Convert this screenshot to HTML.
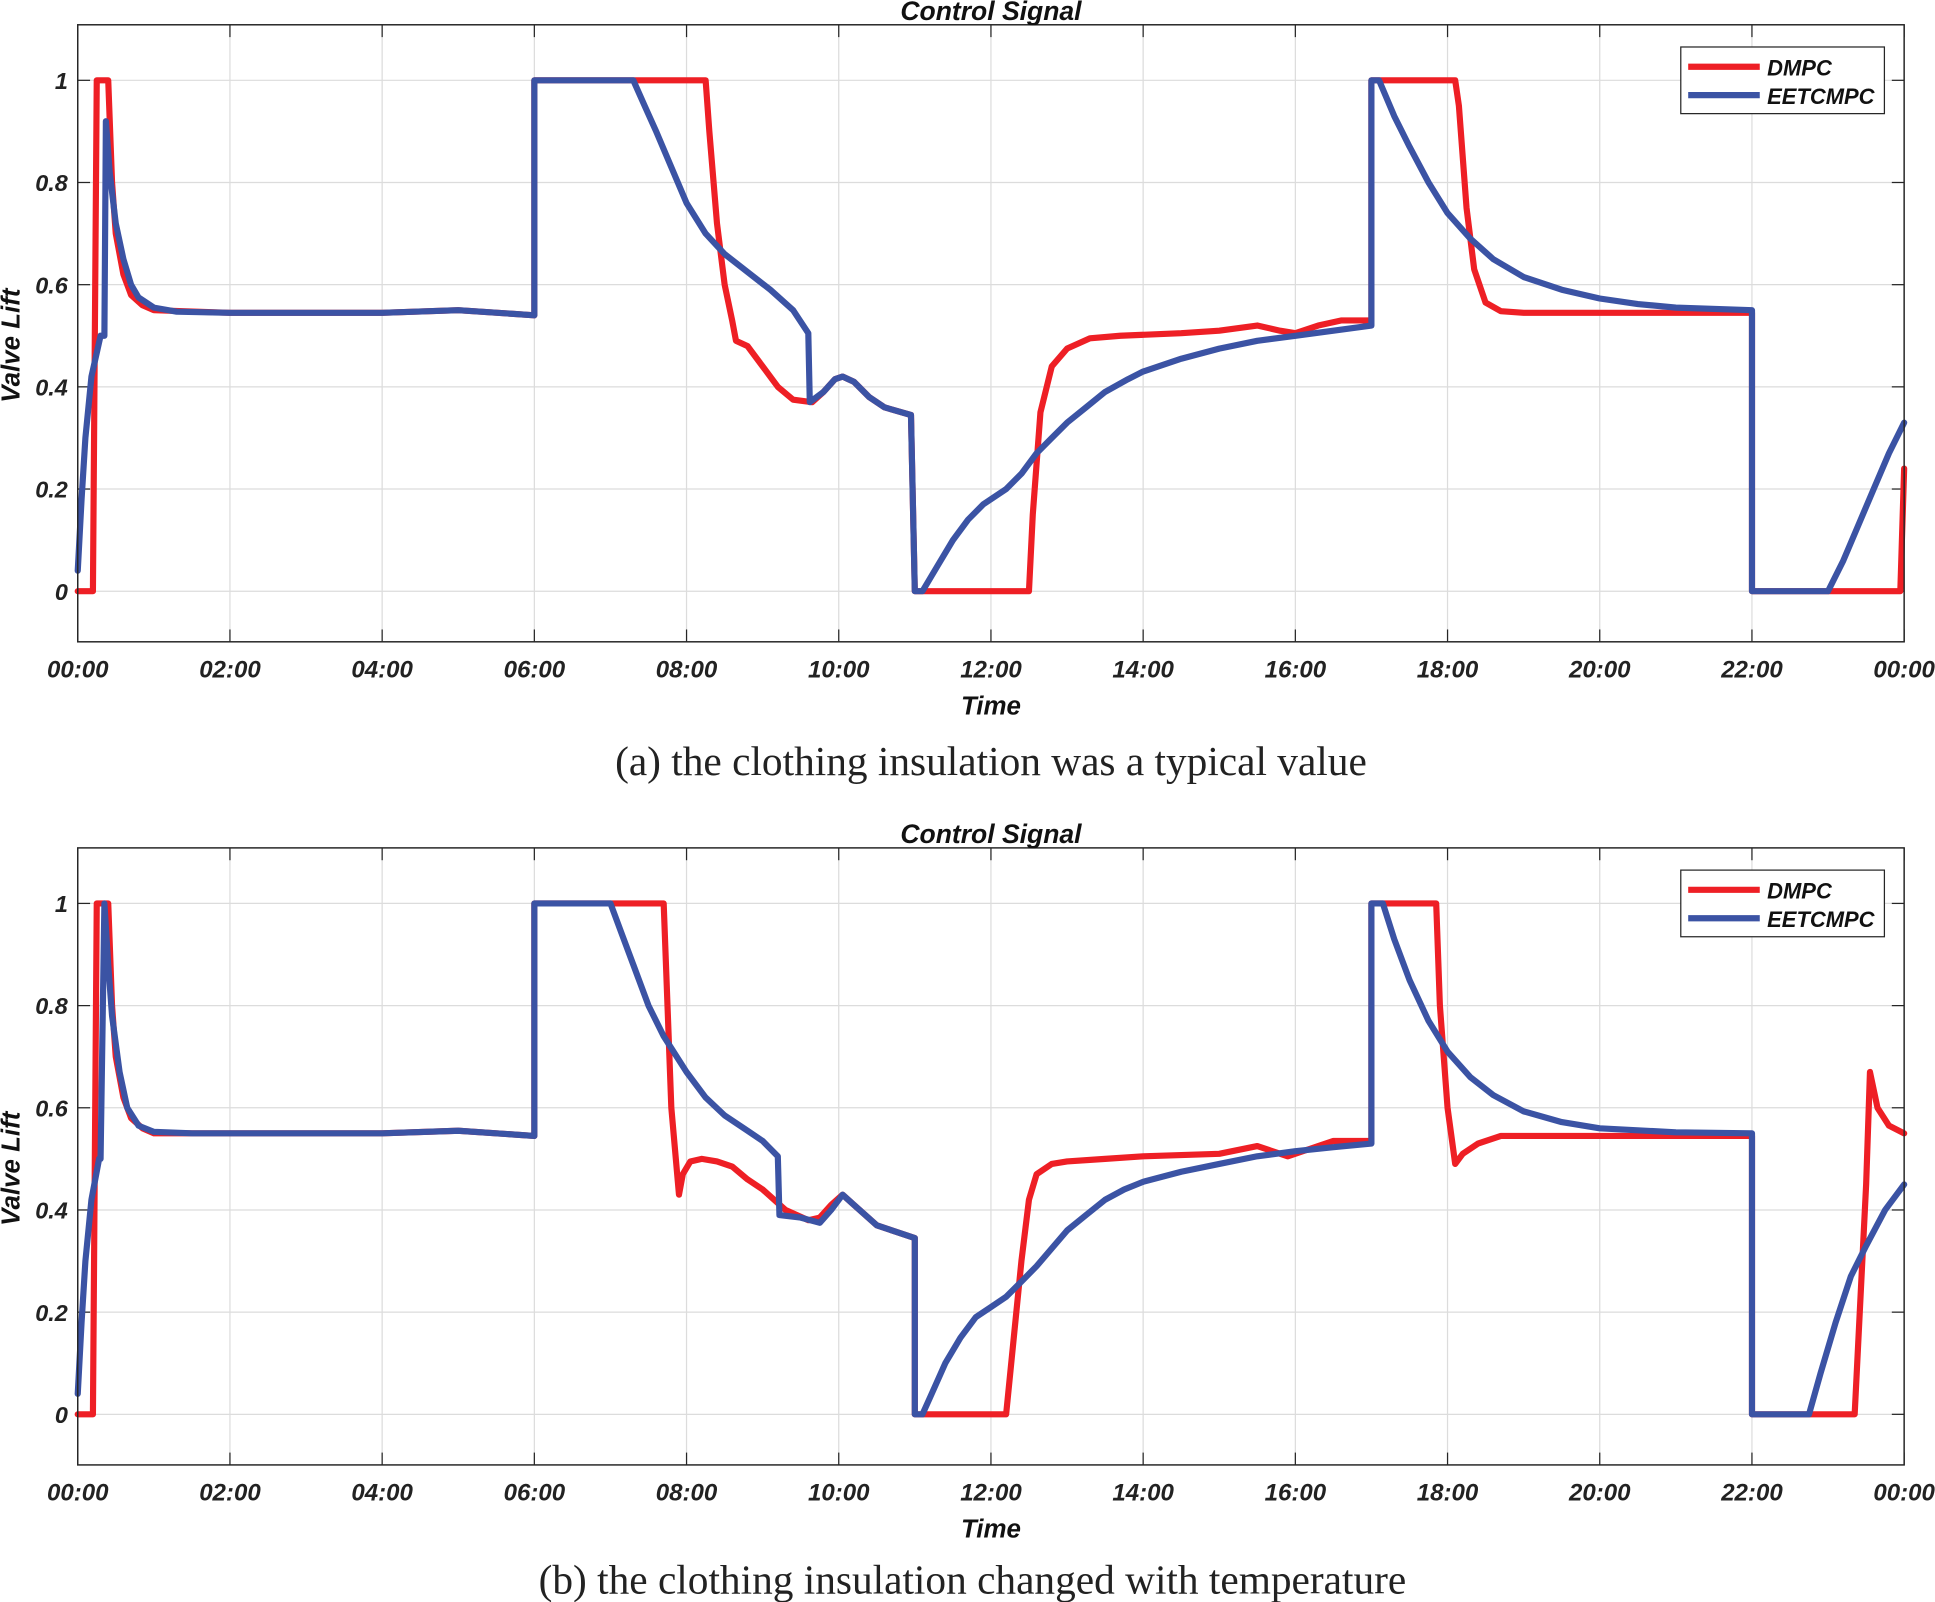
<!DOCTYPE html>
<html><head><meta charset="utf-8"><style>
html,body{margin:0;padding:0;background:#fff}
svg{display:block}
</style></head><body>
<svg id="svg" width="1935" height="1602" viewBox="0 0 1568 1298" xmlns="http://www.w3.org/2000/svg" font-family="Liberation Sans, sans-serif"></svg>
<script>
const yTicks=[0,0.2,0.4,0.6,0.8,1];
const yTickLabels=["0","0.2","0.4","0.6","0.8","1"];
const xTicks=[0,2,4,6,8,10,12,14,16,18,20,22,24];
const xTickLabels=["00:00","02:00","04:00","06:00","08:00","10:00","12:00","14:00","16:00","18:00","20:00","22:00","00:00"];
const dmpcA=[[0,0],[0.2,0],[0.25,1],[0.4,1],[0.45,0.8],[0.5,0.7],[0.6,0.62],[0.7,0.58],[0.85,0.56],[1,0.55],[2,0.545],[4,0.545],[5,0.55],[6,0.54],[6,1],[8.25,1],[8.3,0.9],[8.4,0.72],[8.5,0.6],[8.6,0.53],[8.65,0.49],[8.8,0.48],[9,0.44],[9.2,0.4],[9.4,0.375],[9.65,0.37],[9.8,0.39],[9.95,0.415],[10.05,0.42],[10.2,0.41],[10.4,0.38],[10.6,0.36],[10.95,0.345],[11,0],[12.5,0],[12.55,0.15],[12.65,0.35],[12.8,0.44],[13,0.475],[13.3,0.495],[13.7,0.5],[14.5,0.505],[15,0.51],[15.5,0.52],[15.8,0.51],[16,0.505],[16.3,0.52],[16.6,0.53],[17,0.53],[17,1],[18.1,1],[18.15,0.95],[18.25,0.75],[18.35,0.63],[18.5,0.565],[18.7,0.548],[19,0.545],[22,0.545],[22,0],[23.95,0],[24,0.24]];
const eetA=[[0,0.04],[0.05,0.18],[0.1,0.3],[0.18,0.42],[0.3,0.5],[0.35,0.5],[0.37,0.92],[0.42,0.82],[0.5,0.72],[0.6,0.65],[0.7,0.6],[0.8,0.575],[1,0.555],[1.3,0.547],[2,0.545],[4,0.545],[5,0.55],[6,0.54],[6,1],[7.3,1],[7.45,0.95],[7.6,0.9],[7.8,0.83],[8,0.76],[8.25,0.7],[8.5,0.66],[8.8,0.625],[9.1,0.59],[9.4,0.55],[9.6,0.505],[9.62,0.37],[9.8,0.39],[9.95,0.415],[10.05,0.42],[10.2,0.41],[10.4,0.38],[10.6,0.36],[10.95,0.345],[11,0],[11.1,0],[11.3,0.05],[11.5,0.1],[11.7,0.14],[11.9,0.17],[12.2,0.2],[12.4,0.23],[12.6,0.27],[12.8,0.3],[13,0.33],[13.25,0.36],[13.5,0.39],[13.8,0.415],[14,0.43],[14.5,0.455],[15,0.475],[15.5,0.49],[16,0.5],[16.5,0.51],[17,0.52],[17,1],[17.1,1],[17.3,0.93],[17.5,0.87],[17.75,0.8],[18,0.74],[18.3,0.69],[18.6,0.65],[19,0.615],[19.5,0.59],[20,0.573],[20.5,0.562],[21,0.555],[22,0.55],[22,0],[23,0],[23.2,0.06],[23.4,0.13],[23.6,0.2],[23.8,0.27],[24,0.33]];
const dmpcB=[[0,0],[0.2,0],[0.25,1],[0.4,1],[0.45,0.8],[0.5,0.7],[0.6,0.62],[0.7,0.58],[0.85,0.56],[1,0.55],[4,0.55],[5,0.555],[6,0.545],[6,1],[7.7,1],[7.75,0.8],[7.8,0.6],[7.9,0.43],[7.95,0.47],[8.05,0.495],[8.2,0.5],[8.4,0.495],[8.6,0.485],[8.8,0.46],[9,0.44],[9.3,0.4],[9.6,0.38],[9.75,0.385],[9.9,0.41],[10.05,0.43],[10.2,0.41],[10.5,0.37],[10.7,0.36],[11,0.345],[11,0],[12.2,0],[12.3,0.15],[12.4,0.3],[12.5,0.42],[12.6,0.47],[12.8,0.49],[13,0.495],[13.5,0.5],[14,0.505],[15,0.51],[15.5,0.525],[15.9,0.505],[16.2,0.52],[16.5,0.535],[17,0.535],[17,1],[17.85,1],[17.9,0.8],[18,0.6],[18.1,0.49],[18.2,0.51],[18.4,0.53],[18.7,0.545],[22,0.545],[22,0],[23.35,0],[23.45,0.3],[23.5,0.45],[23.55,0.67],[23.65,0.6],[23.8,0.565],[24,0.55]];
const eetB=[[0,0.04],[0.05,0.18],[0.1,0.3],[0.18,0.42],[0.28,0.5],[0.3,0.5],[0.35,1],[0.4,0.88],[0.45,0.78],[0.55,0.67],[0.65,0.6],[0.8,0.565],[1,0.553],[1.5,0.55],[4,0.55],[5,0.555],[6,0.545],[6,1],[7,1],[7.15,0.94],[7.3,0.88],[7.5,0.8],[7.7,0.74],[8,0.67],[8.25,0.62],[8.5,0.585],[8.8,0.555],[9.0,0.535],[9.2,0.505],[9.22,0.39],[9.5,0.385],[9.75,0.375],[9.9,0.4],[10.05,0.43],[10.2,0.41],[10.5,0.37],[10.7,0.36],[11,0.345],[11,0],[11.1,0],[11.25,0.05],[11.4,0.1],[11.6,0.15],[11.8,0.19],[12,0.21],[12.2,0.23],[12.4,0.26],[12.6,0.29],[12.8,0.325],[13,0.36],[13.25,0.39],[13.5,0.42],[13.75,0.44],[14,0.455],[14.5,0.475],[15,0.49],[15.5,0.505],[16,0.515],[16.5,0.523],[17,0.53],[17,1],[17.15,1],[17.3,0.93],[17.5,0.85],[17.75,0.77],[18,0.71],[18.3,0.66],[18.6,0.625],[19,0.593],[19.5,0.572],[20,0.56],[21,0.552],[22,0.55],[22,0],[22.75,0],[22.9,0.08],[23.1,0.18],[23.3,0.27],[23.5,0.33],[23.75,0.4],[24,0.45]];

const NS="http://www.w3.org/2000/svg";
const svg=document.getElementById('svg');
function el(tag,attrs,parent,txt){const e=document.createElementNS(NS,tag);for(const k in attrs)e.setAttribute(k,attrs[k]);if(txt!==undefined)e.textContent=txt;(parent||svg).appendChild(e);return e;}

function panel(id,top,red,blue,caption,capX,capY){
  const L=63,R=1543,T=top,B=top+500;
  const x=h=>L+(R-L)*h/24;
  const y=v=>B-41-v*414;
  const g=el('g',{});
  
  
  el('rect',{x:L,y:T,width:R-L,height:B-T,fill:'#fff'},g);
  xTicks.forEach((t,i)=>{
    if(i>0&&i<xTicks.length-1){const gl=el('line',{x1:x(t),x2:x(t),y1:T,y2:B,stroke:'#dcdcdc','stroke-width':1},g);}
    el('line',{x1:x(t),x2:x(t),y1:B,y2:B-10,stroke:'#262626','stroke-width':1},g);
    el('line',{x1:x(t),x2:x(t),y1:T,y2:T+10,stroke:'#262626','stroke-width':1},g);
    const lb=el('text',{x:x(t),y:B+29,'text-anchor':'middle','font-size':19.5,'font-weight':'bold','font-style':'italic',fill:'#222'},g,xTickLabels[i]);
    
  });
  yTicks.forEach((t,i)=>{
    const gl=el('line',{x1:L,x2:R,y1:y(t),y2:y(t),stroke:'#dcdcdc','stroke-width':1},g);
    
    el('line',{x1:L,x2:L+10,y1:y(t),y2:y(t),stroke:'#262626'},g);
    el('line',{x1:R,x2:R-10,y1:y(t),y2:y(t),stroke:'#262626'},g);
    const lb=el('text',{x:L-8,y:y(t)+7,'text-anchor':'end','font-size':19,'font-weight':'bold','font-style':'italic',fill:'#222'},g,yTickLabels[i]);
    
  });
  const pts=d=>d.map(p=>x(p[0]).toFixed(1)+','+y(p[1]).toFixed(1)).join(' ');
  const r=el('polyline',{points:pts(red),fill:'none',stroke:'#ee1f25','stroke-width':5,'stroke-linejoin':'round','stroke-linecap':'round'},g);
  
  const b=el('polyline',{points:pts(blue),fill:'none',stroke:'#3b53a4','stroke-width':5,'stroke-linejoin':'round','stroke-linecap':'round'},g);
  
  el('rect',{x:L,y:T,width:R-L,height:B-T,fill:'none',stroke:'#262626','stroke-width':1.2},g);
  const tt=el('text',{x:(L+R)/2,y:T-4,'text-anchor':'middle','font-size':21.5,'font-weight':'bold','font-style':'italic',fill:'#111'},g,'Control Signal');
  
  const xt=el('text',{x:(L+R)/2,y:B+59,'text-anchor':'middle','font-size':21,'font-weight':'bold','font-style':'italic',fill:'#111'},g,'Time');
  
  const yt=el('text',{x:0,y:0,transform:`translate(16,${(y(0)+y(1))/2+8}) rotate(-90)`,'text-anchor':'middle','font-size':21,'font-weight':'bold','font-style':'italic',fill:'#111'},g,'Valve Lift');
  
  const lg=el('g',{},g);
  
  el('rect',{x:1362,y:T+18,width:165,height:54,fill:'#fff',stroke:'#262626','stroke-width':1},lg);
  const e1=el('g',{},lg);
  el('line',{x1:1368,x2:1426,y1:T+34,y2:T+34,stroke:'#ee1f25','stroke-width':5},e1);
  el('text',{x:1432,y:T+41,'font-size':17.8,'font-weight':'bold','font-style':'italic',fill:'#111'},e1,'DMPC');
  const e2=el('g',{},lg);
  el('line',{x1:1368,x2:1426,y1:T+57,y2:T+57,stroke:'#3b53a4','stroke-width':5},e2);
  el('text',{x:1432,y:T+64,'font-size':17.8,'font-weight':'bold','font-style':'italic',fill:'#111'},e2,'EETCMPC');
  const cp=el('text',{x:capX,y:capY,'text-anchor':'middle','font-size':33.5,fill:'#222','font-family':'Liberation Serif, serif'},svg,caption);
  
}
panel('panel-a',20,dmpcA,eetA,'(a) the clothing insulation was a typical value',803,628);
panel('panel-b',687,dmpcB,eetB,'(b) the clothing insulation changed with temperature',788,1291);
</script>
</body></html>
